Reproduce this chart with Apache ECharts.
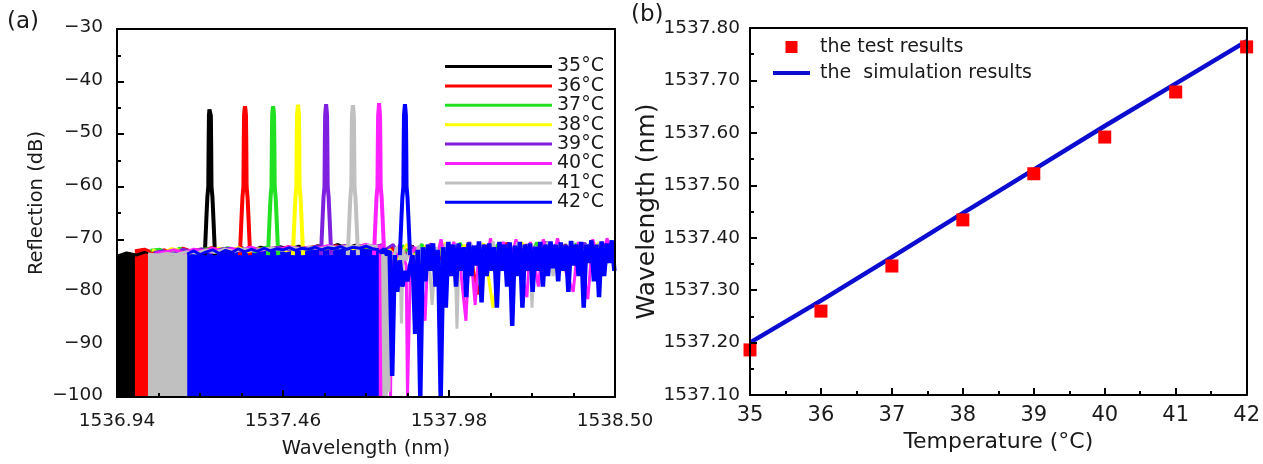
<!DOCTYPE html>
<html><head><meta charset="utf-8">
<script src="https://cdn.jsdelivr.net/npm/echarts@6/dist/echarts.min.js"></script>
<style>html,body{margin:0;padding:0;background:#fff}#c{width:1263px;height:464px}</style>
</head><body><div id="c"></div>
<script>
// ================= Panel (a): reflection spectra =================
const temps = ['35°C','36°C','37°C','38°C','39°C','40°C','41°C','42°C'];
const leftXTicks = [1536.94, 1537.46, 1537.98, 1538.50];
const leftYTicks = [-100, -90, -80, -70, -60, -50, -40, -30];

// Bragg peaks (nm, dB) — in the picture the 41°C (grey) peak sits left of the 40°C (magenta) one
const peakCenters = [1537.231,1537.341,1537.429,1537.507,1537.595,1537.761,1537.679,1537.842];
const peakTops    = [-45.1,-44.7,-44.7,-44.4,-44.3,-44.1,-44.5,-44.3];
// common peak profile (offset from centre in nm, level in dB; null = peak top)
const peakOffsets = [-0.016,-0.011,-0.008,-0.005,-0.004,-0.003,-0.0015,0,0.0015,0.003,0.004,0.005,0.008,0.011,0.016];
const peakSides   = [-73,-66,-62,-60,-52,-46.5,-45.3,null,-45.3,-46.5,-52,-60,-62,-66,-73];

// dense noise region (filled down to -100 dB): start wavelength, sample step, top-edge levels
const fillStarts = [1536.940,1536.996,1537.045,1537.050,1537.055,1537.060,1537.037,1537.160];
const fillSteps  = [0.03,0.03,0.03,0.03,0.03,0.03,0.03,0.02];
const fill35 = [-73.2,-72.6,-73.0,-72.4,-72.9,-72.2,-72.7,-71.9,-72.5,-72.0,-72.6,-71.8,-72.3,-71.6,-72.2,-71.5,-72.0,-71.4,-71.9,-71.3,-71.8,-71.2,-71.7,-71.0,-71.6,-71.1,-71.5,-71.2];
const fill36 = [-72.2,-71.9,-72.6,-72.0,-72.5,-71.7,-72.3,-72.1,-71.6,-72.4,-71.8,-72.2,-71.5,-72.1,-71.7,-72.0,-71.4,-71.9,-71.6,-71.3,-71.8,-71.2,-71.7,-71.4,-71.1,-71.6];
const fill37 = [-72.1,-71.9,-72.8,-71.7,-72.4,-72.0,-71.8,-72.5,-71.6,-72.2,-71.9,-72.4,-71.5,-72.0,-71.8,-71.4,-72.1,-71.6,-71.5,-71.9,-71.3,-71.6,-71.2,-71.7,-71.3];
const fill38 = [-72.0,-72.7,-71.8,-72.1,-72.6,-71.9,-72.3,-71.7,-72.2,-71.6,-72.4,-71.8,-72.0,-71.5,-72.2,-71.7,-71.9,-71.4,-71.8,-71.6,-71.2,-71.8,-71.4,-71.5,-71.1];
const fill39 = [-72.5,-72.2,-72.8,-71.9,-72.3,-71.8,-72.6,-71.9,-71.7,-72.3,-71.6,-72.1,-71.8,-71.5,-72.0,-71.6,-71.9,-71.3,-71.7,-71.5,-71.2,-71.6,-71.3,-71.4,-71.0];
const fill40 = [-72.7,-72.4,-72.0,-72.6,-71.9,-72.2,-71.7,-72.3,-71.8,-72.0,-71.5,-72.1,-71.7,-71.9,-71.4,-71.8,-71.5,-71.7,-71.2,-71.6,-71.3,-71.5,-71.0,-71.4,-71.2];
const fill41 = [-72.8,-73.0,-72.7,-72.9,-72.4,-72.6,-72.1,-72.5,-71.9,-72.3,-71.8,-72.2,-71.9,-71.7,-72.1,-71.6,-71.9,-71.5,-71.8,-71.4,-71.6,-71.3,-71.5,-71.2,-71.4];
const fill42 = [-72.8,-72.2,-72.9,-72.4,-72.0,-72.7,-72.1,-72.5,-71.8,-72.4,-71.9,-72.3,-71.7,-72.2,-71.8,-72.0,-71.6,-72.1,-71.7,-71.9,-71.5,-72.0,-71.6,-71.8,-71.4,-71.9,-71.5,-71.7,-71.3,-71.8,-72.0];

// sparse noise beyond the dense region: start wavelength, step, levels
const tail35 = {start:1537.775, step:0.03, v:[-72,-71.5,-74,-71.2,-75,-70.9,-74,-71.3,-73.5,-70.8,-75,-71,-74,-70.7,-73.8,-71.1,-74.5,-70.6,-73.5,-71,-74,-70.8,-73.6,-70.9,-74]};
const tail36 = {start:1537.771, step:0.03, v:[-72.3,-71.6,-74,-71.2,-74.8,-70.9,-73.7,-71.3,-74.2,-70.8,-80.5,-71.1,-74,-70.7,-74.5,-71,-73.8,-70.6,-74.3,-71.2,-73.5,-70.8,-74.6,-71,-73.9]};
const tail37 = {start:1537.775, step:0.03, v:[-71.8,-74,-71.2,-73.5,-70.9,-75,-71.4,-73.8,-70.7,-74.5,-71.1,-73.5,-70.8,-75,-71.2,-74,-70.6,-74.2,-71,-73.7,-70.8,-74.6,-71.1,-73.9,-70.7]};
const tail38 = {start:1537.788, step:0.03, v:[-71.5,-74,-70.9,-73.8,-71.2,-74.5,-70.7,-73.6,-71.1,-74.2,-70.8,-83,-71,-74,-70.6,-73.9,-71.2,-74.4,-70.8,-73.7,-71,-74.1,-70.7,-73.8]};
const tail39 = {start:1537.775, step:0.03, v:[-72.2,-71,-74.2,-71.4,-73.6,-70.8,-75,-71.1,-73.9,-70.6,-74.4,-71.2,-73.5,-70.9,-74.8,-71,-73.8,-70.5,-74.2,-71.1,-73.6,-70.7,-74.5,-70.9,-73.8]};
const tail40 = [[1537.772,-72],[1537.790,-73],[1537.797,-100],[1537.801,-72.5],[1537.812,-74],[1537.825,-71],[1537.846,-75],[1537.850,-100],[1537.855,-100],[1537.860,-73],[1537.875,-71.5],[1537.890,-74],[1537.905,-85.5],[1537.915,-71],[1537.935,-75],[1537.955,-70],[1537.975,-76],[1537.995,-70.5],[1538.015,-75],[1538.033,-85.5],[1538.045,-70.5],[1538.062,-82.5],[1538.075,-71],[1538.095,-75],[1538.110,-69.8],[1538.130,-76],[1538.150,-70.5],[1538.170,-75],[1538.190,-70],[1538.210,-77],[1538.224,-81],[1538.235,-70.5],[1538.260,-79],[1538.275,-70],[1538.300,-75],[1538.320,-69.8],[1538.345,-76],[1538.369,-80],[1538.385,-70.5],[1538.415,-81.4],[1538.430,-70],[1538.455,-75],[1538.475,-69.8],[1538.495,-74]];
const tail41 = [[1537.772,-72.5],[1537.776,-100],[1537.780,-72],[1537.784,-100],[1537.788,-73],[1537.792,-99],[1537.796,-72.5],[1537.805,-74],[1537.815,-71.5],[1537.826,-73],[1537.831,-86],[1537.836,-72],[1537.846,-74],[1537.858,-71.8],[1537.870,-75],[1537.885,-71.2],[1537.900,-76],[1537.915,-71],[1537.927,-82.5],[1537.940,-71.5],[1537.955,-76],[1537.970,-70.8],[1537.985,-77],[1537.998,-71],[1538.005,-87],[1538.012,-71.4],[1538.030,-76],[1538.046,-70.6],[1538.062,-75],[1538.080,-71],[1538.100,-77],[1538.118,-70.4],[1538.135,-75],[1538.155,-71.2],[1538.175,-76],[1538.195,-70.6],[1538.215,-74],[1538.232,-70.8],[1538.240,-83],[1538.248,-71.3],[1538.270,-75],[1538.290,-70.5],[1538.306,-77],[1538.322,-71],[1538.345,-75],[1538.368,-70.4],[1538.390,-76],[1538.410,-71],[1538.430,-74.5],[1538.450,-70.7],[1538.470,-75],[1538.490,-71]];
const tail42 = {start:1537.762, step:0.008, v:[-72.0,-72.6,-71.8,-73.0,-72.2,-96,-73,-80,-74,-79,-76,-78,-75,-73,-88,-72,-100,-71.5,-78,-71,-76,-70.8,-79,-72,-100,-71.5,-83,-70.5,-77,-71,-79,-70.8,-76,-71.5,-81,-70.6,-77,-71.2,-75,-70.4,-82,-71,-77,-70.8,-76,-71.5,-83,-70.5,-76,-71,-79,-70.6,-86.5,-71.2,-77,-70.5,-83,-71,-76,-70.8,-80,-71.4,-76,-70.5,-79,-71,-77,-70.4,-75.5,-71,-78,-70.6,-76,-71.2,-80,-70.3,-75,-71,-77,-70.5,-83,-71,-74.5,-70.2,-78,-71,-81,-70.4,-77,-70.8,-74.5,-70.2,-76]};

// ================= Panel (b): wavelength vs temperature =================
const temperatures = [35,36,37,38,39,40,41,42];
const testResults = [1537.186,1537.260,1537.346,1537.434,1537.522,1537.592,1537.678,1537.764];
const simulationResults = [1537.200,1537.280,1537.363,1537.447,1537.530,1537.613,1537.694,1537.775];

// ---------------- build ----------------
const colors = ['#000000','#ff0000','#22e022','#ffff00','#7f1fe0','#ff20ff','#c0c0c0','#0000ff'];
const tailWidths = [3,3,3,3,3,3,3,4.5];
const fills = [fill35,fill36,fill37,fill38,fill39,fill40,fill41,fill42];
const tails = [tail35,tail36,tail37,tail38,tail39,tail40,tail41,tail42];
const FONT = 'DejaVu Sans';
const TXT = '#1a1a1a';

function grid(start, step, vals){ return vals.map((v,k)=>[+(start+k*step).toFixed(4), v]); }
function tailPairs(t){ return Array.isArray(t) ? t : grid(t.start, t.step, t.v); }

const series = [];
temps.forEach((name,i)=>{
  const c = colors[i];
  const base = {type:'line', name, xAxisIndex:0, yAxisIndex:0, symbol:'none', showSymbol:false,
    silent:true, animation:false, itemStyle:{color:c}, lineStyle:{color:c, width:3}};
  series.push(Object.assign({}, base, {data: grid(fillStarts[i], fillSteps[i], fills[i]),
    areaStyle:{color:c, opacity:1, origin:'start'}}));
  series.push(Object.assign({}, base, {data: tailPairs(tails[i]), lineStyle:{color:c, width:tailWidths[i]}}));
  const pk = peakOffsets.map((o,k)=>[+(peakCenters[i]+o).toFixed(4), peakSides[k]===null ? peakTops[i] : peakSides[k]]);
  series.push(Object.assign({}, base, {data: pk, lineStyle:{color:c, width:4}}));
});
series.push({type:'line', name:'the  simulation results', xAxisIndex:2, yAxisIndex:2, symbol:'none', showSymbol:false,
  data: temperatures.map((t,k)=>[t, simulationResults[k]]), lineStyle:{color:'#0c0cd0', width:4.5}, itemStyle:{color:'#0c0cd0'}, z:3, animation:false});
series.push({type:'scatter', name:'the test results', xAxisIndex:2, yAxisIndex:2, symbol:'rect', symbolSize:13,
  data: temperatures.map((t,k)=>[t, testResults[k]]), itemStyle:{color:'#ff0000', opacity:1}, z:4, animation:false});

const frameAxis = (extra)=>Object.assign({type:'value', z:6, axisLine:{show:true, lineStyle:{color:'#000', width:2}},
  axisTick:{show:false}, axisLabel:{show:false}, splitLine:{show:false}}, extra);
const tickStyle = {inside:true, length:7, lineStyle:{color:'#000', width:2}};
const minorStyle = (n)=>({show:true, splitNumber:n, length:4, lineStyle:{color:'#000', width:2}});

const option = {
  animation:false,
  backgroundColor:'#fff',
  textStyle:{fontFamily:FONT},
  grid:[
    {left:117, top:29, width:498, height:369},
    {left:750, top:28, width:497, height:367}
  ],
  xAxis:[
    {type:'value', gridIndex:0, min:leftXTicks[0], max:leftXTicks[3], interval:0.52, z:6,
      axisLine:{lineStyle:{color:'#000', width:2}}, axisTick:tickStyle, minorTick:minorStyle(4),
      splitLine:{show:false}, minorSplitLine:{show:false},
      axisLabel:{formatter:v=>v.toFixed(2), fontSize:18.5, color:TXT, fontFamily:FONT, margin:15},
      name:'Wavelength (nm)', nameLocation:'middle', nameGap:42,
      nameTextStyle:{fontSize:19.5, color:TXT, fontFamily:FONT}},
    frameAxis({gridIndex:0, position:'top', min:leftXTicks[0], max:leftXTicks[3]}),
    {type:'value', gridIndex:1, min:35, max:42, interval:1, z:6,
      axisLine:{lineStyle:{color:'#000', width:2}}, axisTick:tickStyle, minorTick:minorStyle(2),
      splitLine:{show:false}, minorSplitLine:{show:false},
      axisLabel:{fontSize:21, color:TXT, fontFamily:FONT, margin:10},
      name:'Temperature (°C)', nameLocation:'middle', nameGap:34,
      nameTextStyle:{fontSize:22, color:TXT, fontFamily:FONT}},
    frameAxis({gridIndex:1, position:'top', min:35, max:42})
  ],
  yAxis:[
    {type:'value', gridIndex:0, min:leftYTicks[0], max:leftYTicks[7], interval:10, z:6,
      axisLine:{lineStyle:{color:'#000', width:2}}, axisTick:tickStyle, minorTick:minorStyle(2),
      splitLine:{show:false}, minorSplitLine:{show:false},
      axisLabel:{formatter:v=>(v<0?'\u2212'+Math.abs(v):String(v)), fontSize:18.5, color:TXT, fontFamily:FONT, margin:14,
        verticalAlign:'bottom', lineHeight:3},
      name:'Reflection (dB)', nameLocation:'middle', nameGap:70, nameRotate:90,
      nameTextStyle:{fontSize:19.5, color:TXT, fontFamily:FONT, padding:[0,0,0,20]}},
    frameAxis({gridIndex:0, position:'right', min:leftYTicks[0], max:leftYTicks[7]}),
    {type:'value', gridIndex:1, min:1537.10, max:1537.80, interval:0.1, z:6,
      axisLine:{lineStyle:{color:'#000', width:2}}, axisTick:tickStyle, minorTick:minorStyle(2),
      splitLine:{show:false}, minorSplitLine:{show:false},
      axisLabel:{formatter:v=>v.toFixed(2), fontSize:18.5, color:TXT, fontFamily:FONT, margin:10},
      name:'Wavelength (nm)', nameLocation:'middle', nameGap:89, nameRotate:90,
      nameTextStyle:{fontSize:25, color:TXT, fontFamily:FONT}},
    frameAxis({gridIndex:1, position:'right', min:1537.10, max:1537.80})
  ],
  legend:[
    {data:temps, orient:'vertical', left:445, top:57, padding:0, icon:'rect', itemWidth:107, itemHeight:3, itemGap:0.4,
      selectedMode:false, textStyle:{fontSize:19, color:TXT, fontFamily:FONT}},
    {data:[{name:'the test results', icon:'path://M0,0 L12,0 L12,12 L0,12 Z'},
           {name:'the  simulation results', icon:'path://M0,0 L37,0 L37,4 L0,4 Z'}],
      orient:'vertical', left:773, top:37, padding:0, symbolKeepAspect:true,
      itemWidth:37, itemHeight:12, itemGap:6, selectedMode:false,
      textStyle:{fontSize:19, lineHeight:20, color:TXT, fontFamily:FONT, padding:[0,0,0,5]}}
  ],
  graphic:[
    {type:'text', left:7, top:11, style:{text:'(a)', fontSize:23, fontFamily:FONT, fill:TXT}},
    {type:'text', left:631, top:4, style:{text:'(b)', fontSize:23, fontFamily:FONT, fill:TXT}}
  ],
  series
};
const chart = echarts.init(document.getElementById('c'), null, {renderer:'canvas'});
chart.setOption(option);
</script>
</body></html>
